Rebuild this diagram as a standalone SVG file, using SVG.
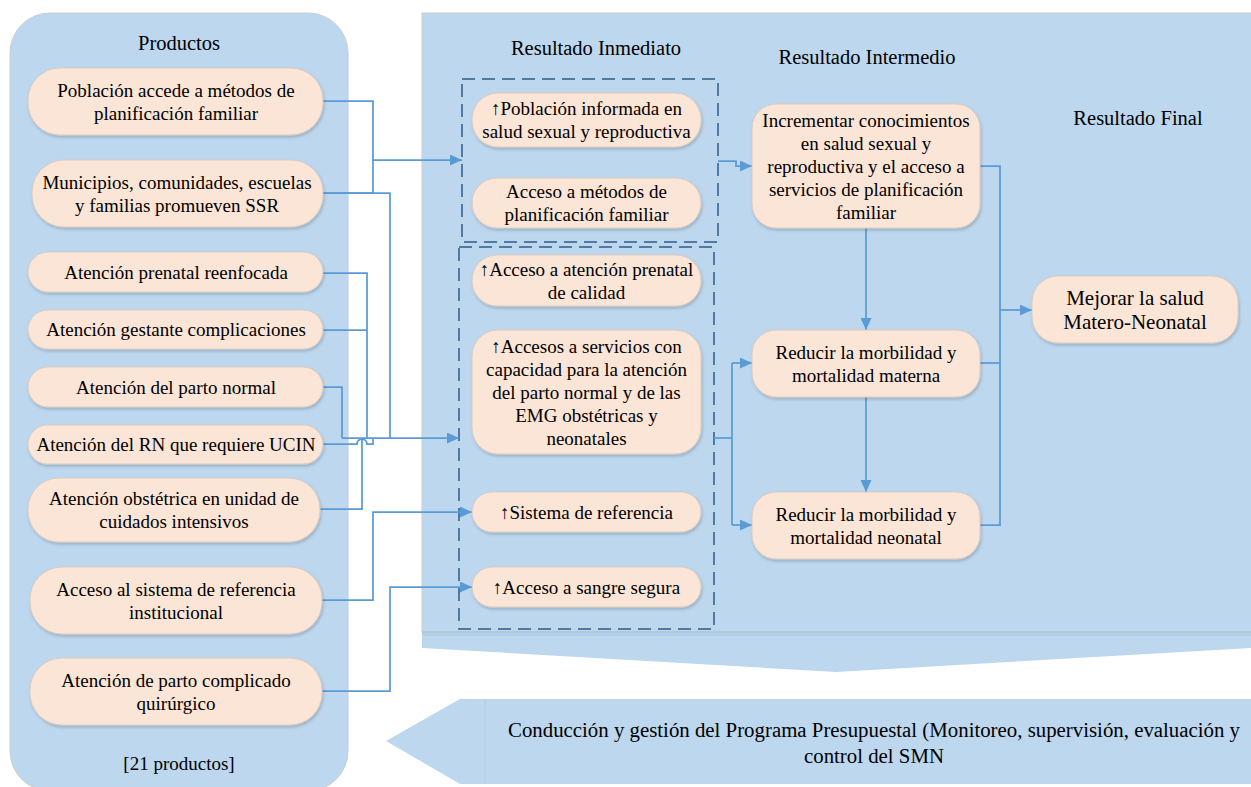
<svg xmlns="http://www.w3.org/2000/svg" width="1251" height="787" viewBox="0 0 1251 787" font-family="'Liberation Serif', 'Times New Roman', 'DejaVu Serif', serif">
<style>
text{font-family:'Liberation Serif','Times New Roman','DejaVu Serif',serif;fill:#000;text-anchor:middle}
.t{font-size:19px}
.h{font-size:20.5px}
.node{fill:#fbe5d6;stroke:#d9cbc1;stroke-width:1;filter:url(#sh)}
.panel{fill:#bdd7ee;stroke:#c8cdd2;stroke-width:1}
.dash{fill:none;stroke:#2e5c8a;stroke-width:1.5;stroke-dasharray:13 7}
.c{fill:none;stroke:#5b9bd5;stroke-width:1.75}
.a{marker-end:url(#arr)}
</style>
<defs>
<filter id="sh" x="-10%" y="-20%" width="120%" height="150%">
<feDropShadow dx="1" dy="2" stdDeviation="1.8" flood-color="#000" flood-opacity="0.18"/>
</filter>
<marker id="arr" markerUnits="userSpaceOnUse" markerWidth="12" markerHeight="11" refX="12" refY="5.5" orient="auto">
<path d="M0,0 L12,5.5 L0,11 Z" fill="#5b9bd5"/>
</marker>
</defs>
<rect width="1251" height="787" fill="#fff"/>

<g id="panel-productos">
<rect class="panel" x="10" y="13" width="338" height="778" rx="40"/>
<text class="h" x="179" y="50">Productos</text>
<text class="t" x="179" y="770">[21 productos]</text>
</g>

<g id="panel-resultados">
<rect class="panel" x="422" y="13" width="840" height="619"/>
<polygon points="422,632 1251,632 1251,648 836,672 422,648" fill="#bdd7ee"/>
<line x1="422" y1="632" x2="1251" y2="632" stroke="#b7c3cd" stroke-width="1.5"/>
<rect x="422" y="633" width="829" height="3" fill="#a9cbea" opacity="0.6"/>
<text class="h" x="596" y="55">Resultado Inmediato</text>
<text class="h" x="867" y="64">Resultado Intermedio</text>
<text class="h" x="1138" y="125">Resultado Final</text>
</g>

<g id="panel-conduccion">
<polygon points="386,741 460,699 1251,699 1251,784 460,784" fill="#bdd7ee"/>
<line x1="485" y1="699" x2="485" y2="784" stroke="#b0cde8" stroke-width="1"/>
<text x="874" y="737" font-size="20.5" textLength="732" lengthAdjust="spacingAndGlyphs">Conducción y gestión del Programa Presupuestal (Monitoreo, supervisión, evaluación y</text>
<text x="874" y="763" font-size="20.5" textLength="140" lengthAdjust="spacingAndGlyphs">control del SMN</text>
</g>

<g id="dashed-groups">
<rect class="dash" x="462" y="79" width="256" height="163"/>
<rect class="dash" x="459" y="247" width="255" height="382"/>
</g>

<g id="connectors">
<path class="c a" d="M323,101 H373 V160 H462"/>
<path class="c" d="M323,193 H373 V160"/>
<path class="c" d="M323,193 H390 V438"/>
<path class="c" d="M323,273 H367 V438"/>
<path class="c" d="M323,330 H367"/>
<path class="c" d="M323,387 H342 V438"/>
<path class="c a" d="M342,438 H459" stroke-width="2.5"/>
<path class="c" d="M323,444 H357 A5,5 0 0 1 367,444 H373 V438"/>
<path class="c" d="M320,509 H362 V438"/>
<path class="c a" d="M322,600 H373 V512 H472"/>
<path class="c a" d="M322,691 H390 V587 H472"/>
<path class="c a" d="M718,161 H736 V166 H752"/>
<path class="c" d="M714,438 H732"/>
<path class="c" d="M732,363 V525"/>
<path class="c a" d="M732,363 H752"/>
<path class="c a" d="M732,525 H752"/>
<path class="c a" d="M866,228 V330"/>
<path class="c a" d="M866,397 V492"/>
<path class="c" d="M980,166 H1000 V525 H980"/>
<path class="c" d="M980,363 H1000"/>
<path class="c a" d="M1000,310 H1032"/>
</g>

<g id="p1"><rect class="node" x="28" y="68" width="295" height="67" rx="32"/>
<text class="t" x="176" y="96.5">Población accede a métodos de</text><text class="t" x="176" y="119.5">planificación familiar</text></g>
<g id="p2"><rect class="node" x="32" y="160" width="291" height="67" rx="32"/>
<text class="t" x="177" y="188.5">Municipios, comunidades, escuelas</text><text class="t" x="177" y="211.5">y familias promueven SSR</text></g>
<g id="p3"><rect class="node" x="28" y="252" width="295" height="40" rx="20"/>
<text class="t" x="176" y="278.5">Atención prenatal reenfocada</text></g>
<g id="p4"><rect class="node" x="28" y="310" width="295" height="39" rx="19.5"/>
<text class="t" x="176" y="336">Atención gestante complicaciones</text></g>
<g id="p5"><rect class="node" x="28" y="367" width="295" height="40" rx="20"/>
<text class="t" x="176" y="393.5">Atención del parto normal</text></g>
<g id="p6"><rect class="node" x="28" y="425" width="295" height="39" rx="19.5"/>
<text class="t" x="176" y="451">Atención del RN que requiere UCIN</text></g>
<g id="p7"><rect class="node" x="28" y="478" width="292" height="64" rx="31"/>
<text class="t" x="174" y="505">Atención obstétrica en unidad de</text><text class="t" x="174" y="528">cuidados intensivos</text></g>
<g id="p8"><rect class="node" x="30" y="567" width="292" height="67" rx="32"/>
<text class="t" x="176" y="595.5">Acceso al sistema de referencia</text><text class="t" x="176" y="618.5">institucional</text></g>
<g id="p9"><rect class="node" x="30" y="658" width="292" height="67" rx="32"/>
<text class="t" x="176" y="686.5">Atención de parto complicado</text><text class="t" x="176" y="709.5">quirúrgico</text></g>

<g id="ri1"><rect class="node" x="472" y="93" width="229" height="54" rx="26"/>
<text class="t" x="586.5" y="115">↑Población informada en</text><text class="t" x="586.5" y="138">salud sexual y reproductiva</text></g>
<g id="ri2"><rect class="node" x="472" y="178" width="229" height="50" rx="25"/>
<text class="t" x="586.5" y="198">Acceso a métodos de</text><text class="t" x="586.5" y="221">planificación familiar</text></g>
<g id="ri3"><rect class="node" x="472" y="255" width="229" height="51" rx="25"/>
<text class="t" x="586.5" y="275.5">↑Acceso a atención prenatal</text><text class="t" x="586.5" y="298.5">de calidad</text></g>
<g id="ri4"><rect class="node" x="472" y="330" width="229" height="124" rx="26"/>
<text class="t" x="586.5" y="352.5">↑Accesos a servicios con</text>
<text class="t" x="586.5" y="375.5">capacidad para la atención</text>
<text class="t" x="586.5" y="398.5">del parto normal y de las</text>
<text class="t" x="586.5" y="421.5">EMG obstétricas y</text>
<text class="t" x="586.5" y="444.5">neonatales</text></g>
<g id="ri5"><rect class="node" x="472" y="492" width="229" height="40" rx="20"/>
<text class="t" x="586.5" y="518.5">↑Sistema de referencia</text></g>
<g id="ri6"><rect class="node" x="472" y="567" width="229" height="40" rx="20"/>
<text class="t" x="586.5" y="593.5">↑Acceso a sangre segura</text></g>

<g id="rm1"><rect class="node" x="752" y="104" width="228" height="124" rx="24"/>
<text class="t" x="866" y="126.5">Incrementar conocimientos</text>
<text class="t" x="866" y="149.5">en salud sexual y</text>
<text class="t" x="866" y="172.5">reproductiva y el acceso a</text>
<text class="t" x="866" y="195.5">servicios de planificación</text>
<text class="t" x="866" y="218.5">familiar</text></g>
<g id="rm2"><rect class="node" x="752" y="330" width="228" height="67" rx="24"/>
<text class="t" x="866" y="358.5">Reducir la morbilidad y</text><text class="t" x="866" y="381.5">mortalidad materna</text></g>
<g id="rm3"><rect class="node" x="752" y="492" width="228" height="67" rx="24"/>
<text class="t" x="866" y="520.5">Reducir la morbilidad y</text><text class="t" x="866" y="543.5">mortalidad neonatal</text></g>

<g id="rf1"><rect class="node" x="1032" y="276" width="206" height="67" rx="26"/>
<text x="1135" y="304.5" font-size="21">Mejorar la salud</text><text x="1135" y="328.5" font-size="21">Matero-Neonatal</text></g>
</svg>
